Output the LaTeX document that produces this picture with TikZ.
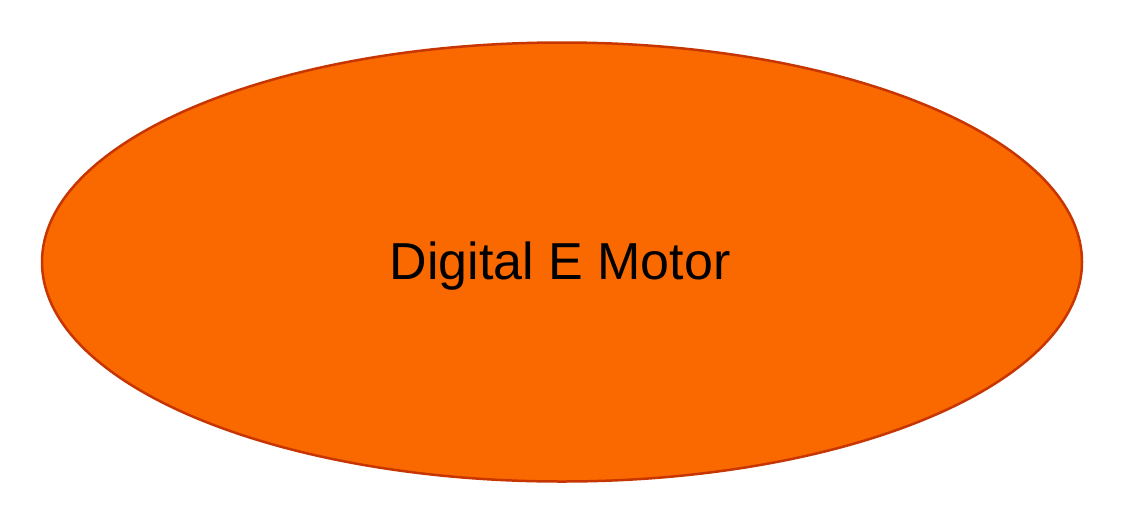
\documentclass[tikz,border=0pt]{standalone}
\usepackage{fontspec}
\setmainfont{Liberation Sans}
\usetikzlibrary{shapes.geometric}
\definecolor{motorfill}{HTML}{FA6800}
\definecolor{motordraw}{HTML}{C73500}
\tikzset{motor/.style={ellipse, fill=motorfill, draw=motordraw, line width=2.5pt, inner sep=0pt,
  minimum width=1040pt, minimum height=439pt},
  motortext/.style={inner sep=0pt, font=\fontsize{52}{60}\selectfont, text=black}}
\begin{document}
\begin{tikzpicture}[x=1pt,y=-1pt]
\useasboundingbox (0,0) rectangle (1124,528);
\node[motor] (m) at (562,262) {};
\node[motortext, anchor=base] (t) at (560,279) {Digital E Motor};
\end{tikzpicture}
\end{document}
